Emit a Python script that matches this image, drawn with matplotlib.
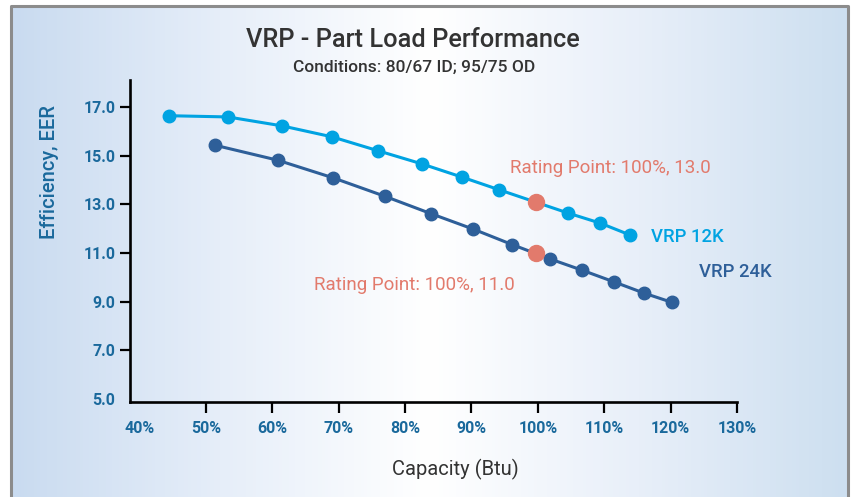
import numpy as np
import matplotlib
matplotlib.use('Agg')
import matplotlib.pyplot as plt
from matplotlib.colors import LinearSegmentedColormap

plt.rcParams['font.family'] = ['Roboto', 'DejaVu Sans']

# capacity (%) and EER
cap_12k = [44.5, 53.3, 61.5, 69.0, 75.9, 82.5, 88.5, 94.2, 104.6, 109.4, 113.9]
eer_12k = [16.65, 16.6, 16.23, 15.78, 15.21, 14.67, 14.13, 13.6, 12.64, 12.23, 11.74]
cap_24k = [51.3, 60.8, 69.2, 76.9, 83.9, 90.3, 96.1, 101.8, 106.7, 111.5, 116.0, 120.2]
eer_24k = [15.44, 14.82, 14.09, 13.34, 12.62, 11.98, 11.35, 10.76, 10.29, 9.81, 9.35, 8.97]
rating_cap = [99.7, 99.7]
rating_eer = [13.1, 11.0]
rating_labels = ['Rating Point: 100%, 13.0', 'Rating Point: 100%, 11.0']
series_labels = ['VRP 12K', 'VRP 24K']
xticks = [40, 50, 60, 70, 80, 90, 100, 110, 120, 130]
yticks = [5, 7, 9, 11, 13, 15, 17]

c12 = '#00a3e2'
c24 = '#2e5f99'
cred = '#e27a6c'
ctick = '#1a699c'
cdark = '#333333'

W, H = 854, 497
fig = plt.figure(figsize=(W/100, H/100), dpi=100)
fig.patch.set_facecolor('white')

# gradient panel with grey frame
bg = fig.add_axes([11/W, 0, (848-11)/W, 1-6/H])
grad = LinearSegmentedColormap.from_list('bg', ['#c9dbf0', '#e6eef9', '#ffffff', '#e8eff9', '#cddff0'])
bg.imshow(np.linspace(0, 1, 256)[None, :], cmap=grad, aspect='auto', extent=[0, 1, 0, 1])
bg.set_xlim(0, 1)
bg.set_ylim(0, 1)
bg.axis('off')
bg.plot([0, 0, 1, 1], [0, 1, 1, 0], color='#8c8c8c', lw=2.2, clip_on=False)

ax = fig.add_axes([130/W, 1-402/H, (737-130)/W, (402-80)/H])
ax.patch.set_alpha(0)
ax.set_xlim(38.55, 130)
ax.set_ylim(4.87, 18.12)

ax.plot(cap_12k, eer_12k, '-o', color=c12, lw=2.2, ms=9, zorder=3)
ax.plot(cap_24k, eer_24k, '-o', color=c24, lw=2.2, ms=9, zorder=3)
ax.plot(rating_cap, rating_eer, 'o', color=cred, ms=11.5, zorder=4, ls='none')

ax.text(95.8, 14.5, rating_labels[0], color=cred, fontsize=13.5, va='center', ha='left')
ax.text(66.3, 9.69, rating_labels[1], color=cred, fontsize=13.5, va='center', ha='left')
ax.text(117.0, 11.66, series_labels[0], color=c12, fontsize=13.3, va='center', ha='left', fontweight='medium')
ax.text(124.3, 10.22, series_labels[1], color=c24, fontsize=13.3, va='center', ha='left', fontweight='medium')

for s in ['top', 'right']:
    ax.spines[s].set_visible(False)
for s in ['left', 'bottom']:
    ax.spines[s].set_linewidth(1.9)
    ax.spines[s].set_color('black')

ax.set_xticks(xticks)
ax.set_xticklabels(['%d%%' % t for t in xticks])
ax.set_yticks(yticks)
ax.set_yticklabels(['%.1f' % t for t in yticks])
ax.tick_params(axis='x', length=8, width=1.6, pad=5.5, labelsize=11.5, labelcolor=ctick)
ax.tick_params(axis='y', length=7, width=1.6, pad=3.5, labelsize=11.5, labelcolor=ctick)
for lab in ax.get_xticklabels() + ax.get_yticklabels():
    lab.set_fontweight('bold')
ax.xaxis.get_major_ticks()[0].tick1line.set_visible(False)
ax.yaxis.get_major_ticks()[0].tick1line.set_visible(False)

fig.text(413/W, 1-40/H, 'VRP - Part Load Performance', ha='center', va='center',
         fontsize=18.3, color=cdark, fontweight='medium')
fig.text(414/W, 1-67/H, 'Conditions: 80/67 ID; 95/75 OD', ha='center', va='center',
         fontsize=12.5, color=cdark, fontweight='medium')
fig.text(50/W, 1-172/H, 'Efficiency, EER', rotation=90, ha='center', va='center',
         fontsize=14.5, color=ctick, fontweight='medium')
fig.text(455/W, 1-469/H, 'Capacity (Btu)', ha='center', va='center',
         fontsize=14.5, color=cdark)

fig.savefig('out.png', dpi=100)
